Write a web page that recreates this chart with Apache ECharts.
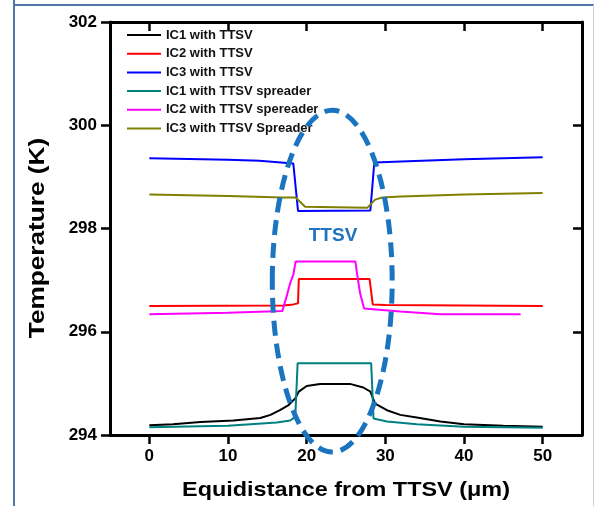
<!DOCTYPE html>
<html>
<head>
<meta charset="utf-8">
<script src="https://cdn.jsdelivr.net/npm/echarts@6/dist/echarts.min.js"></script>
<style>
html,body{margin:0;padding:0;background:#fff;}
#chart{width:595px;height:506px;}
</style>
</head>
<body>
<div id="chart"></div>
<script>
// ---- data ----
const seriesNames = ['IC1 with TTSV','IC2 with TTSV','IC3 with TTSV','IC1 with TTSV spreader','IC2 with TTSV spereader','IC3 with TTSV Spreader'];
const xTicks = [0, 10, 20, 30, 40, 50];
const yTicks = [294, 296, 298, 300, 302];

const xIC1 = [0, 3, 6.5, 10.7, 14.1, 15.4, 16.6, 17.7, 18.55, 19, 20, 21.7, 25.5, 27.2, 28.1, 28.7, 30.2, 31.9, 34, 37, 40, 45, 50];
const yIC1 = [294.19, 294.21, 294.25, 294.28, 294.33, 294.39, 294.48, 294.58, 294.71, 294.84, 294.95, 294.99, 294.99, 294.92, 294.84, 294.61, 294.48, 294.39, 294.34, 294.26, 294.21, 294.18, 294.16];

const xIC2 = [0, 17, 18.3, 18.9, 19, 28.0, 28.4, 30, 50];
const yIC2 = [296.50, 296.51, 296.53, 296.55, 297.02, 297.02, 296.53, 296.52, 296.50];

const xIC3 = [0, 10, 14, 18.3, 18.9, 28.1, 28.6, 32, 40, 50];
const yIC3 = [299.36, 299.33, 299.31, 299.26, 298.34, 298.35, 299.28, 299.30, 299.34, 299.38];

const xIC1s = [0, 6.5, 10, 16.2, 17.9, 18.55, 18.85, 28.2, 28.5, 30.2, 34, 40, 50];
const yIC1s = [294.15, 294.17, 294.18, 294.24, 294.28, 294.35, 295.39, 295.39, 294.32, 294.26, 294.21, 294.16, 294.14];

const xIC2s = [0, 10, 16.9, 17.5, 17.9, 18.3, 18.6, 26.2, 26.4, 26.8, 27.3, 31.9, 37, 47.2];
const yIC2s = [296.34, 296.37, 296.40, 296.71, 296.94, 297.10, 297.36, 297.36, 297.13, 296.74, 296.45, 296.39, 296.34, 296.34];

const xIC3s = [0, 10, 17, 18.6, 19.8, 27.7, 28.7, 29.6, 32, 40, 50];
const yIC3s = [298.66, 298.63, 298.60, 298.60, 298.42, 298.40, 298.56, 298.60, 298.62, 298.66, 298.69];

const colors = ['#000000', '#ff0000', '#0000ff', '#008080', '#ff00ff', '#808000'];

// ---- chart ----
const FONT = 'Liberation Sans, Arial, sans-serif';
const zip = (xs, ys) => xs.map((x, i) => [x, ys[i]]);
const allData = [zip(xIC1, yIC1), zip(xIC2, yIC2), zip(xIC3, yIC3), zip(xIC1s, yIC1s), zip(xIC2s, yIC2s), zip(xIC3s, yIC3s)];

const chart = echarts.init(document.getElementById('chart'), null, {renderer: 'canvas'});

const axisLine = {show: true, onZero: false, lineStyle: {color: '#000', width: 3}};
const option = {
  animation: false,
  backgroundColor: '#ffffff',
  grid: {left: 110, right: 13, top: 22, bottom: 71, containLabel: false},
  legend: {
    orient: 'vertical', left: 122, top: 23, itemWidth: 34, itemHeight: 2, itemGap: 4.7,
    icon: 'rect',
    data: seriesNames,
    textStyle: {fontSize: 13, lineHeight: 14, fontWeight: 'bold', fontFamily: FONT, color: '#111'}
  },
  xAxis: [{
    type: 'value', min: -5, max: 55, position: 'bottom',
    axisLine: axisLine,
    axisTick: {show: true, inside: false, length: 9, lineStyle: {width: 2.5, color: '#000'}, customValues: xTicks},
    axisLabel: {show: true, margin: 13, fontSize: 17, fontWeight: 'bold', fontFamily: FONT, color: '#000', customValues: xTicks},
    splitLine: {show: false}
  }, {
    type: 'value', min: -5, max: 55, position: 'top',
    axisLine: axisLine,
    axisTick: {show: true, inside: true, length: 9, lineStyle: {width: 2.5, color: '#000'}, customValues: xTicks},
    axisLabel: {show: false},
    splitLine: {show: false}
  }],
  yAxis: [{
    type: 'value', min: 294, max: 302, interval: 2, position: 'left',
    axisLine: axisLine,
    axisTick: {show: true, inside: false, length: 9, lineStyle: {width: 2.5, color: '#000'}},
    axisLabel: {show: true, margin: 13, fontSize: 17, fontWeight: 'bold', fontFamily: FONT, color: '#000',
      formatter: v => yTicks.indexOf(v) >= 0 ? String(v) : ''},
    splitLine: {show: false}
  }, {
    type: 'value', min: 294, max: 302, interval: 2, position: 'right',
    axisLine: axisLine,
    axisTick: {show: true, inside: true, length: 9, lineStyle: {width: 2.5, color: '#000'}},
    axisLabel: {show: false},
    splitLine: {show: false}
  }],
  series: seriesNames.map((n, i) => ({
    name: n, type: 'line', xAxisIndex: 0, yAxisIndex: 0,
    data: allData[i], symbol: 'none', showSymbol: false, smooth: false,
    lineStyle: {color: colors[i], width: 2},
    itemStyle: {color: colors[i]},
    z: 3
  }))
};
chart.setOption(option);

// annotations: axis titles, dashed ellipse around the TTSV region, label, and picture frame
const c = chart.convertToPixel({xAxisIndex: 0, yAxisIndex: 0}, [23.25, 296.98]);
const e = chart.convertToPixel({xAxisIndex: 0, yAxisIndex: 0}, [23.25 + 7.62, 296.98 + 3.31]);
const rx = e[0] - c[0], ry = c[1] - e[1];
const t = chart.convertToPixel({xAxisIndex: 0, yAxisIndex: 0}, [23.35, 297.86]);
chart.setOption({
  graphic: [
    {type: 'text', x: 346, y: 490, scaleX: 1.115, z: 20,
     style: {text: 'Equidistance from TTSV (\u03bcm)', fill: '#000', font: 'bold 21px ' + FONT, textAlign: 'center', textVerticalAlign: 'middle'}},
    {type: 'text', x: 38, y: 238, rotation: Math.PI / 2, scaleX: 1.19, z: 20,
     style: {text: 'Temperature (K)', fill: '#000', font: 'bold 22px ' + FONT, textAlign: 'center', textVerticalAlign: 'middle'}},
    {type: 'ellipse', shape: {cx: c[0], cy: c[1], rx: rx, ry: ry}, z: 10,
     style: {fill: null, stroke: '#1b74c0', lineWidth: 5, lineDash: [15, 8]}},
    {type: 'text', x: t[0], y: t[1], z: 11,
     style: {text: 'TTSV', fill: '#1f73c0', font: 'bold 19px ' + FONT, textAlign: 'center', textVerticalAlign: 'middle'}},
    {type: 'line', shape: {x1: 14, y1: 0, x2: 14, y2: 506}, style: {stroke: '#4f78a8', lineWidth: 2}},
    {type: 'line', shape: {x1: 13, y1: 5, x2: 594, y2: 5}, style: {stroke: '#4f78a8', lineWidth: 2}},
    {type: 'line', shape: {x1: 593.5, y1: 5, x2: 593.5, y2: 506}, style: {stroke: '#c5d2e0', lineWidth: 1}}
  ]
});
</script>
</body>
</html>
